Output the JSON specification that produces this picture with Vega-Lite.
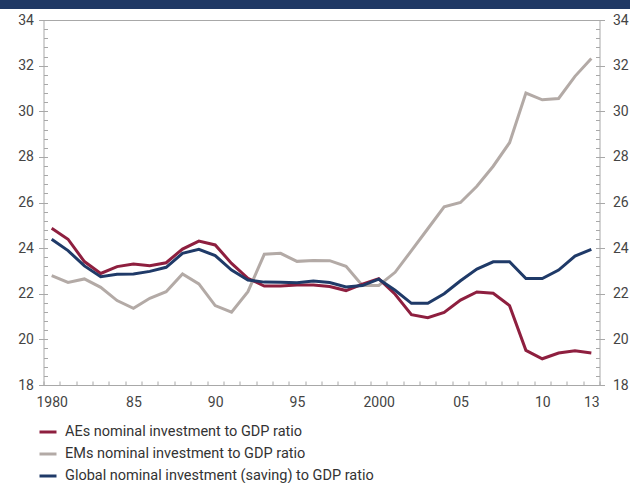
{
  "$schema": "https://vega.github.io/schema/vega-lite/v6.json",
  "width": 556,
  "height": 365,
  "autosize": {"type": "none"},
  "padding": {"left": 43.5, "top": 20, "right": 30.5, "bottom": 98},
  "background": "#ffffff",
  "config": {
    "view": {"stroke": "#a8a8a8", "strokeWidth": 1},
    "font": "Roboto",
    "axis": {"domain": false, "grid": false, "title": null, "tickColor": "#a8a8a8", "tickWidth": 1, "labelColor": "#444444", "labelFontSize": 14, "labelFont": "Roboto"}
  },
  "data": {"values": [
    {"year": 1980, "AEs": 24.87, "EMs": 22.79, "Global": 24.39},
    {"year": 1981, "AEs": 24.39, "EMs": 22.50, "Global": 23.89},
    {"year": 1982, "AEs": 23.41, "EMs": 22.65, "Global": 23.22},
    {"year": 1983, "AEs": 22.89, "EMs": 22.28, "Global": 22.75},
    {"year": 1984, "AEs": 23.19, "EMs": 21.70, "Global": 22.85},
    {"year": 1985, "AEs": 23.30, "EMs": 21.36, "Global": 22.87},
    {"year": 1986, "AEs": 23.23, "EMs": 21.80, "Global": 22.98},
    {"year": 1987, "AEs": 23.36, "EMs": 22.09, "Global": 23.16},
    {"year": 1988, "AEs": 23.96, "EMs": 22.87, "Global": 23.77},
    {"year": 1989, "AEs": 24.31, "EMs": 22.43, "Global": 23.95},
    {"year": 1990, "AEs": 24.14, "EMs": 21.48, "Global": 23.67},
    {"year": 1991, "AEs": 23.33, "EMs": 21.19, "Global": 23.04},
    {"year": 1992, "AEs": 22.68, "EMs": 22.09, "Global": 22.60},
    {"year": 1993, "AEs": 22.34, "EMs": 23.73, "Global": 22.51},
    {"year": 1994, "AEs": 22.34, "EMs": 23.77, "Global": 22.50},
    {"year": 1995, "AEs": 22.38, "EMs": 23.42, "Global": 22.48},
    {"year": 1996, "AEs": 22.38, "EMs": 23.46, "Global": 22.56},
    {"year": 1997, "AEs": 22.32, "EMs": 23.45, "Global": 22.49},
    {"year": 1998, "AEs": 22.14, "EMs": 23.20, "Global": 22.30},
    {"year": 1999, "AEs": 22.42, "EMs": 22.36, "Global": 22.36},
    {"year": 2000, "AEs": 22.66, "EMs": 22.36, "Global": 22.64},
    {"year": 2001, "AEs": 21.98, "EMs": 22.94, "Global": 22.15},
    {"year": 2002, "AEs": 21.08, "EMs": 23.89, "Global": 21.58},
    {"year": 2003, "AEs": 20.95, "EMs": 24.85, "Global": 21.58},
    {"year": 2004, "AEs": 21.18, "EMs": 25.81, "Global": 22.00},
    {"year": 2005, "AEs": 21.72, "EMs": 26.00, "Global": 22.57},
    {"year": 2006, "AEs": 22.08, "EMs": 26.71, "Global": 23.08},
    {"year": 2007, "AEs": 22.02, "EMs": 27.59, "Global": 23.40},
    {"year": 2008, "AEs": 21.48, "EMs": 28.62, "Global": 23.40},
    {"year": 2009, "AEs": 19.52, "EMs": 30.80, "Global": 22.67},
    {"year": 2010, "AEs": 19.15, "EMs": 30.50, "Global": 22.67},
    {"year": 2011, "AEs": 19.40, "EMs": 30.56, "Global": 23.04},
    {"year": 2012, "AEs": 19.50, "EMs": 31.53, "Global": 23.65},
    {"year": 2013, "AEs": 19.40, "EMs": 32.31, "Global": 23.95}
  ]},
  "transform": [{"fold": ["EMs", "AEs", "Global"], "as": ["series", "value"]}],
  "resolve": {"axis": {"x": "independent", "y": "independent"}},
  "layer": [
    {
      "mark": {"type": "line", "strokeWidth": 3, "strokeJoin": "miter"},
      "encoding": {
        "x": {"field": "year", "type": "quantitative",
              "scale": {"domain": [1979.5, 2013.5], "nice": false, "zero": false},
              "axis": {"orient": "bottom", "values": [1979.5,1980.5,1981.5,1982.5,1983.5,1984.5,1985.5,1986.5,1987.5,1988.5,1989.5,1990.5,1991.5,1992.5,1993.5,1994.5,1995.5,1996.5,1997.5,1998.5,1999.5,2000.5,2001.5,2002.5,2003.5,2004.5,2005.5,2006.5,2007.5,2008.5,2009.5,2010.5,2011.5,2012.5,2013.5], "labels": false, "tickSize": -4}},
        "y": {"field": "value", "type": "quantitative",
              "scale": {"domain": [18, 34], "nice": false, "zero": false},
              "axis": {"orient": "left", "values": [18,20,22,24,26,28,30,32,34], "tickSize": 5, "labelPadding": 5}},
        "color": {"field": "series", "type": "nominal",
                  "scale": {"domain": ["AEs", "EMs", "Global"], "range": ["#8E1F3F", "#B3AAA6", "#1F3A68"]},
                  "legend": {"orient": "none", "legendX": -5.5, "legendY": 402, "title": null, "direction": "vertical",
                             "symbolType": "stroke", "symbolSize": 289, "symbolStrokeWidth": 3,
                             "labelFontSize": 14.5, "labelColor": "#333333", "labelFont": "Roboto", "labelOffset": 7, "rowPadding": 5, "labelLimit": 0,
                             "labelExpr": "datum.label == 'AEs' ? 'AEs nominal investment to GDP ratio' : datum.label == 'EMs' ? 'EMs nominal investment to GDP ratio' : 'Global nominal investment (saving) to GDP ratio'"}}
      }
    },
    {
      "mark": {"type": "line", "opacity": 0},
      "encoding": {
        "x": {"field": "year", "type": "quantitative",
              "axis": {"orient": "bottom", "values": [1980, 1985, 1990, 1995, 2000, 2005, 2010, 2013], "tickSize": 0, "labelPadding": 10,
                       "labelExpr": "datum.value == 1980 || datum.value == 2000 ? '' + datum.value : slice('0' + (datum.value % 100), -2)"}},
        "y": {"field": "value", "type": "quantitative",
              "axis": {"orient": "right", "values": [18,20,22,24,26,28,30,32,34], "tickSize": 5, "labelPadding": 8}},
        "detail": {"field": "series"}
      }
    },
    {
      "mark": {"type": "line", "opacity": 0},
      "encoding": {
        "x": {"field": "year", "type": "quantitative", "axis": null},
        "y": {"field": "value", "type": "quantitative",
              "axis": {"orient": "left", "labels": false, "tickSize": -4, "values": [18,18.4,18.8,19.2,19.6,20,20.4,20.8,21.2,21.6,22,22.4,22.8,23.2,23.6,24,24.4,24.8,25.2,25.6,26,26.4,26.8,27.2,27.6,28,28.4,28.8,29.2,29.6,30,30.4,30.8,31.2,31.6,32,32.4,32.8,33.2,33.6,34]}},
        "detail": {"field": "series"}
      }
    },
    {
      "mark": {"type": "line", "opacity": 0},
      "encoding": {
        "x": {"field": "year", "type": "quantitative", "axis": null},
        "y": {"field": "value", "type": "quantitative",
              "axis": {"orient": "right", "labels": false, "tickSize": -4, "values": [18,18.4,18.8,19.2,19.6,20,20.4,20.8,21.2,21.6,22,22.4,22.8,23.2,23.6,24,24.4,24.8,25.2,25.6,26,26.4,26.8,27.2,27.6,28,28.4,28.8,29.2,29.6,30,30.4,30.8,31.2,31.6,32,32.4,32.8,33.2,33.6,34]}},
        "detail": {"field": "series"}
      }
    },
    {
      "data": {"values": [{"band": "top"}]},
      "mark": {"type": "rect", "color": "#1F3864"},
      "encoding": {
        "x": {"datum": 1976, "type": "quantitative", "axis": null},
        "x2": {"datum": 2016},
        "y": {"datum": 34.48, "type": "quantitative", "axis": null},
        "y2": {"datum": 35.2}
      }
    }
  ]
}
